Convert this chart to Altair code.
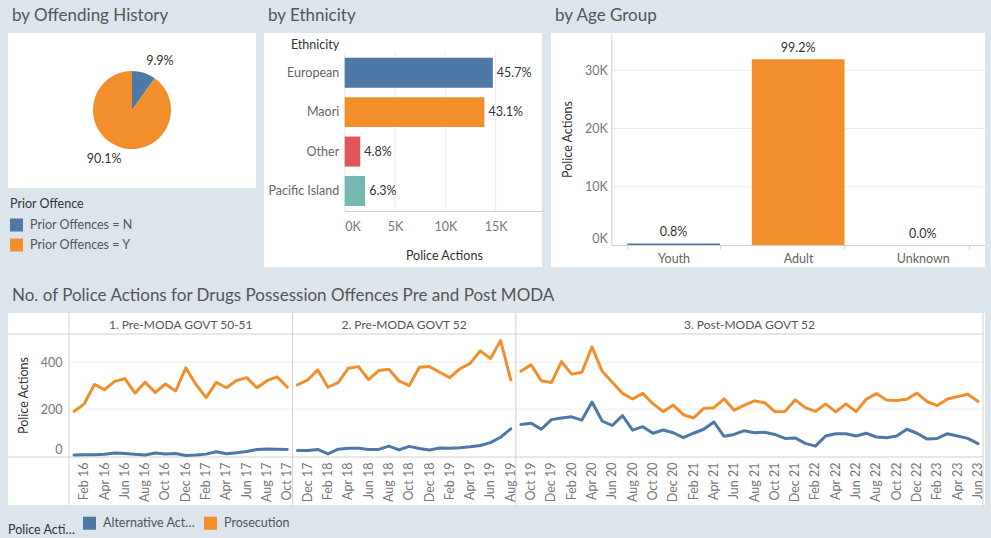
import calendar

import altair as alt
import pandas as pd

# ---------------------------------------------------------------- style
FONT = "Lato"
BG = "#dce5ec"
BLUE, ORANGE, RED, TEAL = "#4e79a7", "#f28e2b", "#e15759", "#76b7b2"
TITLE_GREY = "#555555"
LABEL_GREY = "#777777"
DARK = "#333333"
RULE_GREY = "#d0d0d0"
GRID_GREY = "#ececec"

# ---------------------------------------------------------------- data
prior_offence = ["Prior Offences = N", "Prior Offences = Y"]
prior_actions = [3185, 28985]

ethnicity = ["European", "Maori", "Other", "Pacific Island"]
ethnicity_actions = [14715, 13880, 1545, 2030]

age_group = ["Youth", "Adult", "Unknown"]
age_actions = [260, 31900, 10]

periods = ["1. Pre-MODA GOVT 50-51", "2. Pre-MODA GOVT 52", "3. Post-MODA GOVT 52"]
period_months = [22, 22, 46]
series_start = (2016, 1)

action_types = ["Alternative Action", "Prosecution"]

prosecution = [
    190, 222, 305, 283, 318, 330, 268, 314, 271, 307, 277, 376,
    305, 249, 314, 291, 322, 334, 291, 321, 337, 293,
    303, 324, 367, 293, 313, 374, 381, 326, 364, 370, 320, 300,
    378, 381, 357, 334, 372, 395, 448, 415, 492, 324,
    361, 389, 321, 313, 402, 349, 357, 465, 361, 314, 267, 243,
    267, 223, 189, 217, 176, 162, 203, 206, 244, 195, 217, 235,
    227, 189, 190, 239, 206, 190, 222, 188, 222, 189, 242, 266,
    239, 237, 242, 268, 232, 215, 243, 253, 263, 233,
]
alternative_action = [
    4, 5, 5, 7, 13, 11, 7, 4, 13, 9, 11, 2,
    4, 8, 18, 10, 14, 19, 28, 30, 29, 28,
    23, 23, 28, 9, 29, 33, 33, 28, 28, 42, 26, 41,
    32, 26, 34, 33, 35, 39, 45, 57, 80, 116,
    134, 140, 114, 155, 162, 167, 153, 230, 149, 130, 172, 110,
    125, 97, 111, 99, 78, 97, 114, 145, 84, 92, 108, 99,
    101, 92, 75, 77, 54, 42, 85, 95, 95, 85, 97, 81,
    78, 85, 114, 97, 72, 75, 95, 85, 75, 53,
]

# month labels ("Jan 16" ...) and the period each month belongs to
months, month_numbers = [], []
year, month = series_start
for _ in range(sum(period_months)):
    months.append(f"{calendar.month_abbr[month]} {year % 100:02d}")
    month_numbers.append(month)
    month += 1
    if month > 12:
        month, year = 1, year + 1
tick_months = [lbl for lbl, num in zip(months, month_numbers) if num % 2 == 0]

month_period, period_first, period_mid = [], [], []
offset = 0
for name, n in zip(periods, period_months):
    month_period += [name] * n
    period_first.append(months[offset])
    period_mid.append(months[offset + n // 2])
    offset += n

trend_df = pd.DataFrame({
    "month": months * 2,
    "period": month_period * 2,
    "action": [action_types[0]] * len(months) + [action_types[1]] * len(months),
    "count": alternative_action + prosecution,
})

AXIS = dict(
    labelFont=FONT, labelFontSize=12.5, labelColor=LABEL_GREY,
    titleFont=FONT, titleFontSize=12.5, titleColor=DARK, titleFontWeight="normal",
    ticks=False, grid=False, domainColor=RULE_GREY, zindex=1,
)


def blank():
    return alt.Data(values=[{}])


def panel(x0, y0, x1, y1):
    return alt.Chart(blank()).mark_rect(color="white").encode(
        x=alt.value(x0), x2=alt.value(x1), y=alt.value(y0), y2=alt.value(y1)
    )


def heading(text, x, y):
    return alt.Chart(blank()).mark_text(
        align="left", baseline="alphabetic", font=FONT, fontSize=17, color=TITLE_GREY
    ).encode(x=alt.value(x), y=alt.value(y), text=alt.value(text))


def with_share(df, field):
    return (
        alt.Chart(df)
        .transform_joinaggregate(total=f"sum({field})")
        .transform_calculate(share=f"datum.{field} / datum.total")
    )


# ---------------------------------------------------------------- pie: offending history
prior_base = with_share(pd.DataFrame({"prior": prior_offence, "actions": prior_actions}), "actions")
pie_theta = alt.Theta("actions:Q", stack=True)
pie_order = alt.Order("prior:N", sort="ascending")
pie_arcs = prior_base.mark_arc(outerRadius=39).encode(
    theta=pie_theta,
    order=pie_order,
    color=alt.Color(
        "prior:N",
        scale=alt.Scale(domain=prior_offence, range=[BLUE, ORANGE]),
        legend=alt.Legend(
            title="Prior Offence", orient="none", legendX=10, legendY=198,
            direction="vertical", symbolType="square", symbolSize=169, symbolStrokeWidth=0,
            labelFont=FONT, labelFontSize=12.5, labelColor=TITLE_GREY, labelOffset=7,
            titleFont=FONT, titleFontSize=12.5, titleColor=DARK, titleFontWeight="normal",
            titlePadding=8, rowPadding=7, padding=0,
        ),
    ),
    x=alt.value(132),
    y=alt.value(110),
)
pie_labels = prior_base.mark_text(
    radius=56, thetaOffset=0.21, font=FONT, fontSize=12.5, color=DARK
).encode(
    theta=pie_theta,
    order=pie_order,
    detail="prior:N",
    text=alt.Text("share:Q", format=".1%"),
    x=alt.value(132),
    y=alt.value(110),
)
pie_layers = [pie_arcs, pie_labels]

# ---------------------------------------------------------------- bars: ethnicity
eth_x = alt.Scale(domain=[0, 19700], range=[344.7, 543], nice=False, zero=False)
eth_y = alt.Scale(type="band", domain=ethnicity, range=[51.8, 211.9], paddingInner=0.24, paddingOuter=0.15)
eth_ticks = [0, 5000, 10000, 15000]
eth_base = with_share(pd.DataFrame({"ethnicity": ethnicity, "actions": ethnicity_actions}), "actions")

eth_grid = alt.Chart(pd.DataFrame({"tick": eth_ticks})).mark_rule(color=GRID_GREY).encode(
    x=alt.X("tick:Q", scale=eth_x, axis=None), y=alt.value(51.8), y2=alt.value(211)
)
eth_bars = eth_base.mark_bar().encode(
    x=alt.X(
        "actions:Q", scale=eth_x,
        axis=alt.Axis(
            orient="bottom", offset=211 - 538, values=eth_ticks,
            labelExpr="datum.value / 1000 + 'K'", labelPadding=9,
            title="Police Actions", titleBaseline="alphabetic", titleY=48, **AXIS,
        ),
    ),
    y=alt.Y(
        "ethnicity:N", scale=eth_y,
        axis=alt.Axis(
            orient="left", offset=-344.7, labelPadding=6, domain=False,
            title="Ethnicity", titleAngle=0, titleAlign="right", titleBaseline="middle",
            titleX=-6, titleY=44.5, **{**AXIS, "labelColor": "#666666"},
        ),
    ),
    color=alt.Color("ethnicity:N", scale=alt.Scale(domain=ethnicity, range=[BLUE, ORANGE, RED, TEAL]), legend=None),
)
eth_labels = eth_base.mark_text(
    align="left", baseline="middle", dx=4, font=FONT, fontSize=12.5, color=DARK
).encode(
    x=alt.X("actions:Q", scale=eth_x, axis=None),
    y=alt.Y("ethnicity:N", scale=eth_y, axis=None),
    text=alt.Text("share:Q", format=".1%"),
)
eth_layers = [eth_grid, eth_bars, eth_labels]

# ---------------------------------------------------------------- bars: age group
age_x = alt.Scale(type="band", domain=age_group, range=[611.3, 985], paddingInner=0.256, paddingOuter=0.128)
age_y = alt.Scale(domain=[0, 36400], range=[245, 33], nice=False, zero=False)
age_ticks = [0, 10000, 20000, 30000]
age_base = with_share(pd.DataFrame({"age": age_group, "actions": age_actions}), "actions")

age_grid = alt.Chart(pd.DataFrame({"tick": age_ticks[1:]})).mark_rule(color=GRID_GREY).encode(
    y=alt.Y("tick:Q", scale=age_y, axis=None), x=alt.value(611.3), x2=alt.value(985)
)
age_bars = age_base.mark_bar().encode(
    x=alt.X(
        "age:N", scale=age_x,
        axis=alt.Axis(
            orient="bottom", offset=245 - 538, labelAngle=0, labelPadding=3, title=None,
            **{**AXIS, "ticks": True, "labelColor": "#666666"},
            tickBand="extent", tickSize=4, tickColor=RULE_GREY,
        ),
    ),
    y=alt.Y(
        "actions:Q", scale=age_y,
        axis=alt.Axis(
            orient="left", offset=-611.3, values=age_ticks,
            labelExpr="datum.value / 1000 + 'K'", labelFlush=True, labelPadding=4,
            title="Police Actions", titleX=-37, titleY=139, **AXIS,
        ),
    ),
    color=alt.Color("age:N", scale=alt.Scale(domain=age_group, range=[BLUE, ORANGE, RED]), legend=None),
)
age_labels = age_base.mark_text(
    baseline="bottom", dy=-4, font=FONT, fontSize=12.5, color=DARK
).encode(
    x=alt.X("age:N", scale=age_x, axis=None),
    y=alt.Y("actions:Q", scale=age_y, axis=None),
    text=alt.Text("share:Q", format=".1%"),
)
age_layers = [age_grid, age_bars, age_labels]

# ---------------------------------------------------------------- lines: monthly police actions
tr_x = alt.Scale(type="band", domain=months, range=[69, 983], paddingInner=0, paddingOuter=0)
tr_y = alt.Scale(domain=[0, 520], range=[456, 334], nice=False, zero=False)

tr_grid = alt.Chart(pd.DataFrame({"tick": [200, 400]})).mark_rule(color=GRID_GREY).encode(
    y=alt.Y("tick:Q", scale=tr_y, axis=None), x=alt.value(69), x2=alt.value(983)
)
tr_header_rule = alt.Chart(blank()).mark_rule(color=RULE_GREY).encode(
    y=alt.value(334), x=alt.value(8), x2=alt.value(983)
)
tr_base_rule = alt.Chart(blank()).mark_rule(color=RULE_GREY).encode(
    y=alt.value(457), x=alt.value(8), x2=alt.value(983)
)
tr_dividers = alt.Chart(pd.DataFrame({"month": period_first})).mark_rule(color=RULE_GREY).encode(
    x=alt.X("month:O", scale=tr_x, bandPosition=0, axis=None), y=alt.value(313), y2=alt.value(505)
)
tr_edge = alt.Chart(pd.DataFrame({"month": [months[-1]]})).mark_rule(color=RULE_GREY).encode(
    x=alt.X("month:O", scale=tr_x, bandPosition=1, axis=None), y=alt.value(313), y2=alt.value(505)
)
tr_headers = alt.Chart(pd.DataFrame({"period": periods, "mid": period_mid})).mark_text(
    baseline="alphabetic", font=FONT, fontSize=12, color=TITLE_GREY
).encode(
    x=alt.X("mid:O", scale=tr_x, bandPosition=0, axis=None), y=alt.value(329.3), text="period:N"
)
tr_lines = alt.Chart(trend_df).mark_line(strokeWidth=3, strokeJoin="round", strokeCap="round").encode(
    x=alt.X(
        "month:O", scale=tr_x, bandPosition=0.5,
        axis=alt.Axis(
            orient="bottom", offset=-81, values=tick_months, labelAngle=270,
            labelPadding=5, domain=False, title=None, **AXIS,
        ),
    ),
    y=alt.Y(
        "count:Q", scale=tr_y,
        axis=alt.Axis(
            orient="left", offset=-69, values=[0, 200, 400], labelFlush=True,
            labelPadding=7, domain=False, title="Police Actions",
            titleX=-39, titleY=395, **AXIS,
        ),
    ),
    color=alt.Color(
        "action:N",
        scale=alt.Scale(domain=action_types, range=[BLUE, ORANGE]),
        legend=alt.Legend(
            title="Police Action", orient="none", legendX=8, legendY=516.5,
            direction="horizontal", titleOrient="left", titleLimit=70, labelLimit=95,
            symbolType="square", symbolSize=16, symbolStrokeWidth=9,
            labelFont=FONT, labelFontSize=12.5, labelColor=TITLE_GREY, labelOffset=7,
            titleFont=FONT, titleFontSize=12.5, titleColor=DARK, titleFontWeight="normal",
            titlePadding=7, columnPadding=-5, padding=0,
        ),
    ),
    detail="period:N",
)
trend_layers = [tr_grid, tr_header_rule, tr_base_rule, tr_dividers, tr_edge, tr_headers, tr_lines]

# ---------------------------------------------------------------- dashboard
chart = (
    alt.layer(
        panel(8, 33, 256, 188),
        panel(264, 33, 542, 267),
        panel(551, 33, 985, 267),
        panel(8, 313, 985, 505),
        heading("by Offending History", 12, 21),
        heading("by Ethnicity", 268, 21),
        heading("by Age Group", 555, 21),
        heading("No. of Police Actions for Drugs Possession Offences Pre and Post MODA", 12, 301),
        *pie_layers,
        *eth_layers,
        *age_layers,
        *trend_layers,
    )
    .resolve_scale(x="independent", y="independent", color="independent", theta="independent")
    .resolve_axis(x="independent", y="independent")
    .resolve_legend(color="independent")
    .properties(
        width=991, height=538, padding=0,
        autosize=alt.AutoSizeParams(type="none"), background=BG,
    )
    .configure_view(strokeWidth=0)
)

chart.save("out.html", embed_options={"renderer": "svg", "actions": False})
